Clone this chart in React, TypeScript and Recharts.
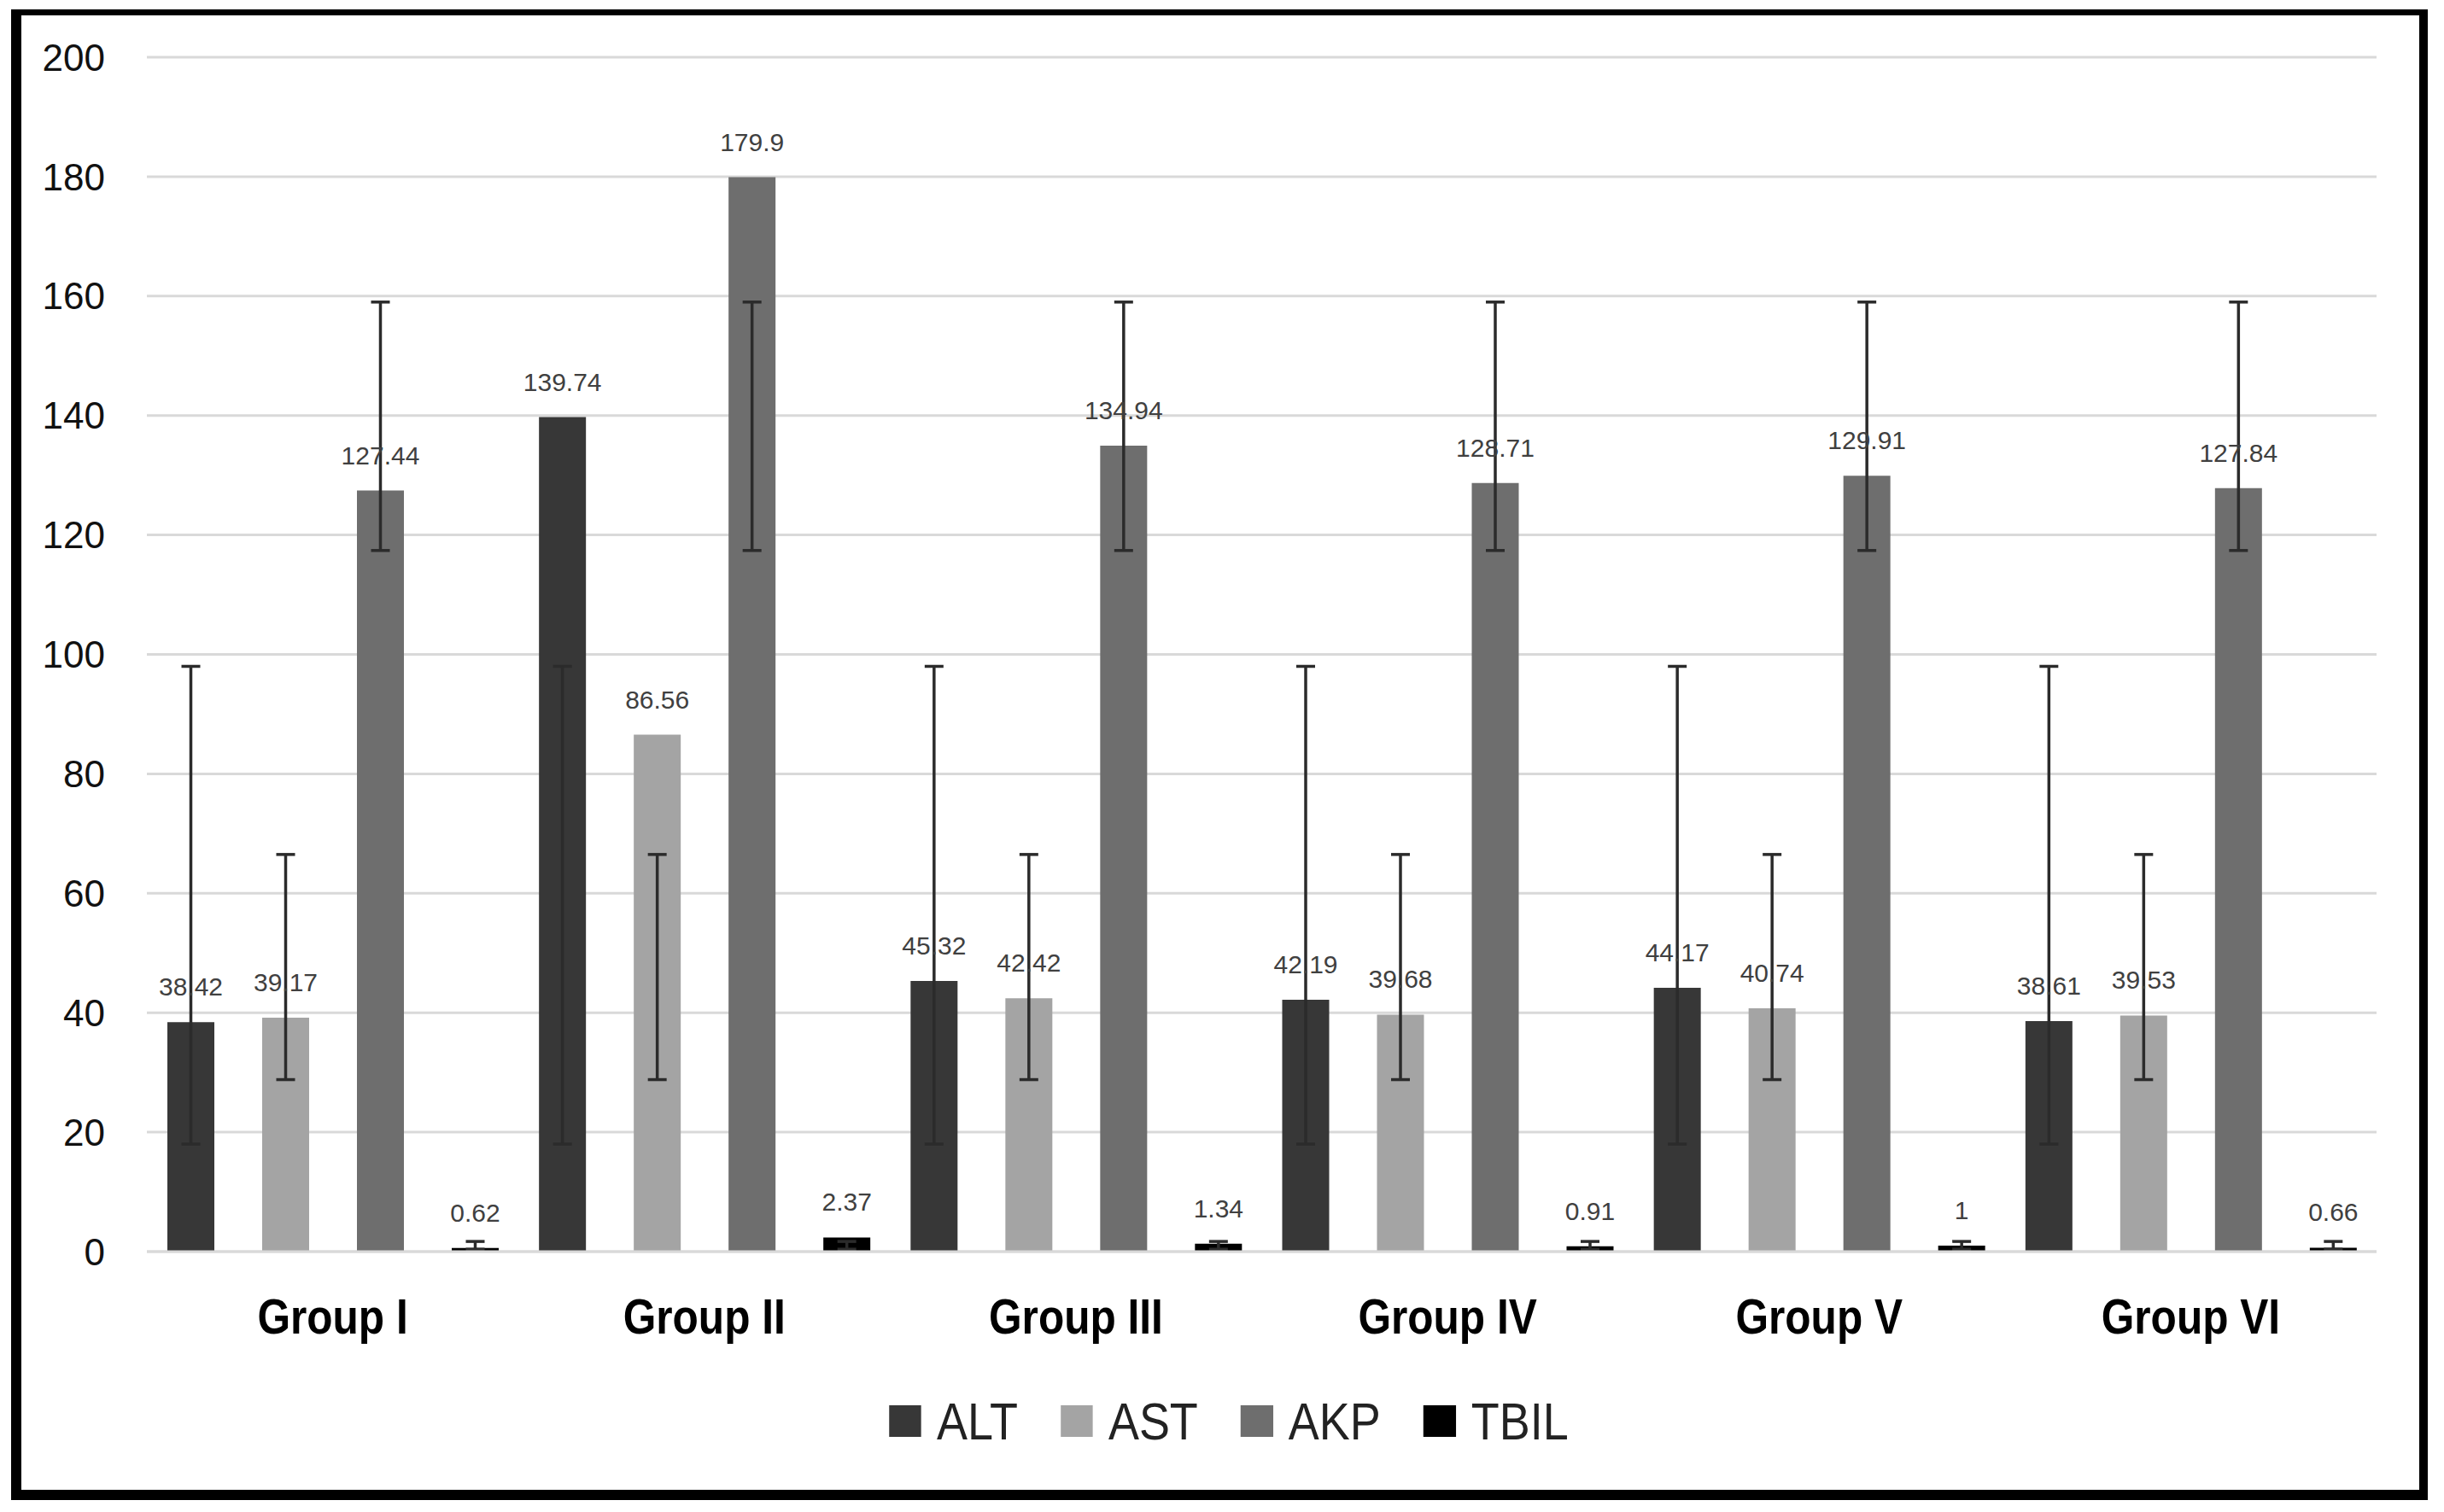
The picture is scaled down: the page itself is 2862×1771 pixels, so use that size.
import React from 'react';
import { BarChart, Bar, XAxis, YAxis, CartesianGrid, ErrorBar, LabelList, Legend } from 'recharts';

const GROUPS = ['Group I', 'Group II', 'Group III', 'Group IV', 'Group V', 'Group VI'];
const ALT = [38.42, 139.74, 45.32, 42.19, 44.17, 38.61];
const AST = [39.17, 86.56, 42.42, 39.68, 40.74, 39.53];
const AKP = [127.44, 179.9, 134.94, 128.71, 129.91, 127.84];
const TBIL = [0.62, 2.37, 1.34, 0.91, 1, 0.66];

// error-bar extents (lower end, upper end)
const ALT_ERR_LOW = [18, 18, 18, 18, 18, 18];
const ALT_ERR_HIGH = [98, 98, 98, 98, 98, 98];
const AST_ERR_LOW = [28.8, 28.8, 28.8, 28.8, 28.8, 28.8];
const AST_ERR_HIGH = [66.5, 66.5, 66.5, 66.5, 66.5, 66.5];
const AKP_ERR_LOW = [117.4, 117.4, 117.4, 117.4, 117.4, 117.4];
const AKP_ERR_HIGH = [159, 159, 159, 159, 159, 159];
const TBIL_ERR_LOW = [0.4, 0.4, 0.4, 0.4, 0.4, 0.4];
const TBIL_ERR_HIGH = [1.7, 1.7, 1.7, 1.7, 1.7, 1.7];

const Y_TICKS = [0, 20, 40, 60, 80, 100, 120, 140, 160, 180, 200];

const SERIES = [
  { key: 'ALT', color: '#373737', values: ALT, low: ALT_ERR_LOW, high: ALT_ERR_HIGH },
  { key: 'AST', color: '#A4A4A4', values: AST, low: AST_ERR_LOW, high: AST_ERR_HIGH },
  { key: 'AKP', color: '#6E6E6E', values: AKP, low: AKP_ERR_LOW, high: AKP_ERR_HIGH },
  { key: 'TBIL', color: '#000000', values: TBIL, low: TBIL_ERR_LOW, high: TBIL_ERR_HIGH },
];

const data = GROUPS.map((g, i) => {
  const row: any = { group: g };
  SERIES.forEach((s) => {
    row[s.key] = s.values[i];
    row[s.key + '_err'] = [s.values[i] - s.low[i], s.high[i] - s.values[i]];
  });
  return row;
});

const FONT = "'Liberation Sans', Arial, sans-serif";
const SQUEEZE = 0.87;

const CatTick = (props: any) => {
  const { x, y, payload } = props;
  return (
    <g transform={`translate(${x},${y}) scale(${SQUEEZE},1)`}>
      <text
        x={0}
        y={0}
        dy="0.71em"
        textAnchor="middle"
        fontFamily={FONT}
        fontWeight="bold"
        fontSize={57}
        fill="#000"
      >
        {payload.value}
      </text>
    </g>
  );
};

const LegendContent = () => (
  <div
    style={{
      display: 'flex',
      justifyContent: 'center',
      alignItems: 'center',
      paddingLeft: 18,
      fontFamily: FONT,
      fontSize: 62,
      color: '#222',
      transform: `scaleX(${SQUEEZE})`,
      transformOrigin: '1431px 50%',
    }}
  >
    {SERIES.map((s, i) => (
      <div
        key={s.key}
        style={{ display: 'flex', alignItems: 'center', marginRight: i < SERIES.length - 1 ? 50 / SQUEEZE : 0 }}
      >
        <div style={{ width: 38 / SQUEEZE, height: 37, background: s.color, marginRight: 18 / SQUEEZE }} />
        <span>{s.key}</span>
      </div>
    ))}
  </div>
);

export default function App() {
  return (
    <div style={{ position: 'absolute', left: 0, top: 0, width: 2862, height: 1771, background: '#fff' }}>
      <div
        style={{
          position: 'absolute',
          left: 13,
          top: 11,
          width: 2830,
          height: 1746,
          boxSizing: 'border-box',
          borderLeft: '12px solid #000',
          borderRight: '10px solid #000',
          borderTop: '7px solid #000',
          borderBottom: '12px solid #000',
        }}
      />
      <div style={{ position: 'absolute', left: 0, top: 0 }}>
        <BarChart
          width={2862}
          height={1771}
          data={data}
          margin={{ top: 67, right: 79, left: 0, bottom: 205 }}
          barSize={55}
          barGap={56}
        >
          <CartesianGrid vertical={false} stroke="#d9d9d9" strokeWidth={3} />
          <XAxis
            dataKey="group"
            height={100}
            axisLine={{ stroke: '#d9d9d9', strokeWidth: 3 }}
            tickLine={false}
            tickSize={0}
            tickMargin={56}
            tick={<CatTick />}
            interval={0}
          />
          <YAxis
            width={172}
            domain={[0, 200]}
            ticks={Y_TICKS}
            axisLine={false}
            tickLine={false}
            tickSize={0}
            tickMargin={49}
            tick={{ fontSize: 44, fill: '#111', fontFamily: FONT }}
          />
          <Legend
            layout="horizontal"
            align="center"
            verticalAlign="middle"
            wrapperStyle={{ top: 1629, left: 0, width: 2862 }}
            content={<LegendContent />}
          />
          {SERIES.map((s) => (
            <Bar key={s.key} dataKey={s.key} fill={s.color} isAnimationActive={false}>
              <LabelList
                dataKey={s.key}
                position="top"
                offset={31}
                fontSize={30}
                fill="#404040"
                fontFamily={FONT}
              />
              <ErrorBar
                dataKey={s.key + '_err'}
                direction="y"
                width={11}
                strokeWidth={3.5}
                stroke="#2b2b2b"
                isAnimationActive={false}
              />
            </Bar>
          ))}
        </BarChart>
      </div>
    </div>
  );
}
